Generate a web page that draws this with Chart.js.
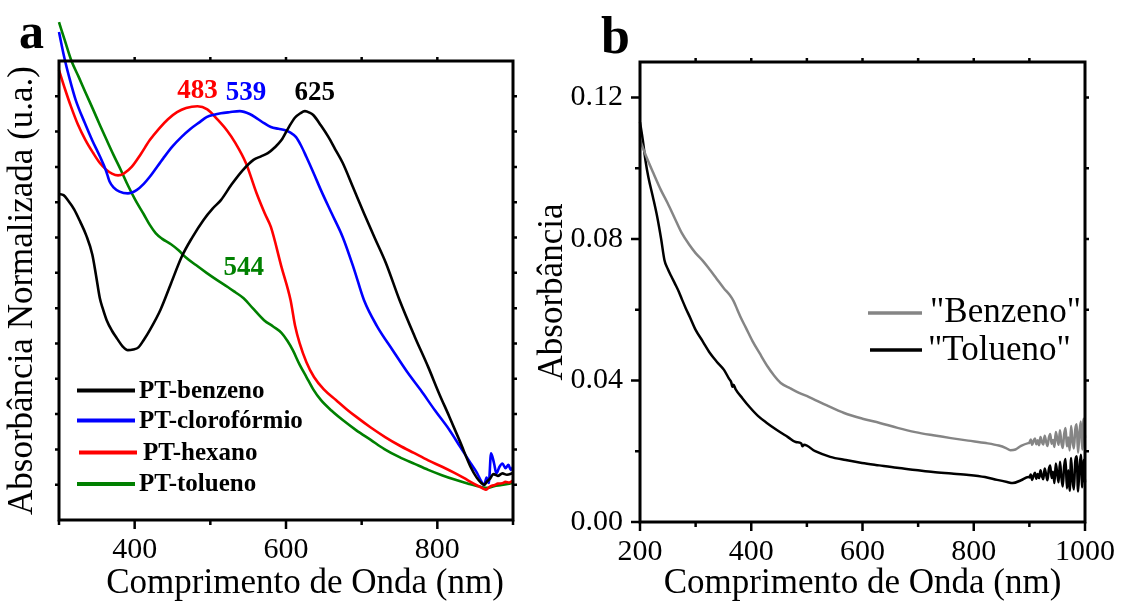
<!DOCTYPE html>
<html lang="pt">
<head>
<meta charset="utf-8">
<title>Espectros de absorção UV-Vis</title>
<script src="https://cdn.jsdelivr.net/npm/chart.js@4.4.1/dist/chart.umd.min.js"></script>
<style>
  html, body { margin: 0; padding: 0; background: #fff; }
  #wrap { position: relative; width: 1127px; height: 605px; overflow: hidden; background: #fff; }
  canvas { position: absolute; top: 0; }
  #cA { left: 0; }
  #cB { left: 530px; }
</style>
</head>
<body>
<div id="wrap">
  <canvas id="cA" width="530" height="605"></canvas>
  <canvas id="cB" width="597" height="605"></canvas>
</div>
<script>
// ---------- Painel a: absorbância normalizada dos filmes de PT ----------
const benzenoNm  = [300,306,312,320,328,336,344,349,354,358,363,370,377,384,391,398,405,412,420,434,448,462,476,491,503,514,528,543,557,567,576,585,594,603,612,619,625,631,636,646,656,665,675,689,703,717,732,750,770,788,802,816,830,844,852,858,862,866,870,874,880,886,892,900];
const benzenoAbs = [0.923,0.920,0.905,0.880,0.845,0.806,0.752,0.692,0.628,0.598,0.566,0.536,0.513,0.492,0.481,0.483,0.489,0.510,0.538,0.595,0.670,0.745,0.800,0.850,0.882,0.906,0.950,0.991,1.020,1.030,1.039,1.055,1.076,1.110,1.140,1.152,1.158,1.154,1.147,1.118,1.085,1.050,1.011,0.940,0.869,0.800,0.728,0.623,0.520,0.433,0.360,0.292,0.222,0.150,0.120,0.105,0.100,0.110,0.118,0.130,0.125,0.132,0.128,0.133];

const clorofNm  = [300,307,314,322,334,344,354,362,365,367,372,380,391,403,412,420,438,450,462,474,486,495,505,514,525,539,552,562,571,580,590,599,606,613,620,627,636,646,660,675,690,703,720,741,760,778,797,816,830,844,852,858,862,865,868,871,875,878,882,886,890,894,897,900];
const clorofAbs = [1.382,1.310,1.250,1.190,1.125,1.075,1.030,0.990,0.970,0.958,0.942,0.930,0.925,0.935,0.952,0.972,1.025,1.058,1.085,1.108,1.127,1.141,1.148,1.152,1.155,1.158,1.150,1.137,1.124,1.113,1.108,1.104,1.097,1.085,1.060,1.028,0.985,0.935,0.870,0.801,0.710,0.623,0.550,0.481,0.420,0.368,0.310,0.255,0.208,0.161,0.135,0.110,0.099,0.120,0.105,0.189,0.160,0.132,0.150,0.160,0.147,0.156,0.142,0.150];

const hexanoNm  = [300,308,316,325,335,345,354,362,370,378,386,396,408,420,432,444,456,468,483,496,510,522,533,547,561,572,580,594,606,612,618,627,637,650,666,680,693,712,731,750,769,788,807,822,835,848,858,864,868,872,876,880,886,890,895,900];
const hexanoAbs = [1.274,1.220,1.170,1.120,1.076,1.040,1.011,0.993,0.981,0.976,0.982,1.000,1.036,1.076,1.108,1.135,1.155,1.167,1.172,1.163,1.133,1.103,1.068,1.011,0.926,0.868,0.830,0.717,0.623,0.550,0.501,0.447,0.405,0.370,0.340,0.314,0.292,0.262,0.235,0.211,0.190,0.169,0.150,0.134,0.119,0.103,0.092,0.086,0.092,0.097,0.099,0.103,0.104,0.108,0.106,0.112];

const toluenoNm  = [300,308,316,326,335,345,354,363,372,382,391,401,412,420,428,436,448,458,467,481,495,510,523,533,544,556,571,583,594,602,609,618,627,636,646,660,675,693,712,730,750,770,788,806,825,842,859,866,875,885,900];
const toluenoAbs = [1.410,1.356,1.303,1.255,1.211,1.163,1.119,1.076,1.034,0.990,0.948,0.906,0.866,0.836,0.812,0.797,0.781,0.764,0.745,0.722,0.700,0.678,0.660,0.645,0.628,0.600,0.566,0.548,0.530,0.507,0.481,0.440,0.405,0.370,0.340,0.310,0.283,0.254,0.227,0.201,0.178,0.159,0.142,0.127,0.113,0.102,0.093,0.091,0.096,0.099,0.105];

const xTicksA      = [400, 600, 800];
const xMinorTicksA = [300, 500, 700, 900];
const xTopTicksA   = [400, 500, 600, 700, 800];
const yTicksA      = [0.1,0.2,0.3,0.4,0.5,0.6,0.7,0.8,0.9,1.0,1.1,1.2];

// comprimentos de onda dos máximos indicados no gráfico
const peakLabels = ['483', '539', '625', '544'];
const peakNm     = [483, 547, 638, 544];
const peakAbs    = [1.216, 1.209, 1.209, 0.7145];

// ---------- Painel b: absorbância das soluções ----------
const benzNmB  = [200,212,224,237,250,262,275,288,300,313,326,338,351,361,368,375,382,390,402,415,430,440,453,470,486,504,535,567,600,631,663,695,727,759,790,822,845,858,866,875,885,898,
  900,902.5,905,907.5,910,912.5,915,917.5,920,922.5,925,927.5,930,932.5,935,937.5,940,942.5,945,947.5,950,952.5,955,957.5,960,962.5,965,967.5,970,972.5,975,977.5,980,982.5,985,987.5,990,992.5,995,997.5,1000];
const benzAbsB = [0.1080,0.1030,0.0986,0.0940,0.0900,0.0860,0.0817,0.0785,0.0760,0.0738,0.0712,0.0687,0.0660,0.0642,0.0625,0.0600,0.0575,0.0550,0.0512,0.0477,0.0438,0.0416,0.0393,0.0378,0.0365,0.0353,0.0330,0.0308,0.0292,0.0280,0.0266,0.0254,0.0245,0.0237,0.0230,0.0223,0.0216,0.0209,0.0203,0.0205,0.0215,0.0223,
  0.0224,0.0233,0.0218,0.0229,0.0236,0.0220,0.0231,0.0217,0.0240,0.0226,0.0219,0.0244,0.0228,0.0215,0.0238,0.0249,0.0221,0.0232,0.0212,0.0254,0.0236,0.0218,0.0259,0.0225,0.0209,0.0248,0.0266,0.0214,0.0239,0.0202,0.0271,0.0230,0.0208,0.0262,0.0276,0.0196,0.0251,0.0284,0.0205,0.0292,0.0238];

const tolNmB  = [200,205,210,215,223,231,238,244,250,256,263,270,276,282,290,300,313,326,338,351,360,364,366,368,372,384,397,412,428,446,466,480,490,492,495,515,542,570,599,630,662,695,727,760,791,820,842,860,870,885,898,
  900,902.5,905,907.5,910,912.5,915,917.5,920,922.5,925,927.5,930,932.5,935,937.5,940,942.5,945,947.5,950,952.5,955,957.5,960,962.5,965,967.5,970,972.5,975,977.5,980,982.5,985,987.5,990,992.5,995,997.5,1000];
const tolAbsB = [0.1130,0.1080,0.1020,0.0975,0.0920,0.0862,0.0800,0.0740,0.0715,0.0695,0.0673,0.0650,0.0627,0.0605,0.0578,0.0543,0.0510,0.0477,0.0453,0.0430,0.0405,0.0395,0.0382,0.0388,0.0375,0.0350,0.0325,0.0300,0.0280,0.0260,0.0240,0.0226,0.0222,0.0214,0.0218,0.0200,0.0184,0.0175,0.0167,0.0160,0.0153,0.0147,0.0141,0.0137,0.0133,0.0127,0.0119,0.0113,0.0110,0.0118,0.0127,
  0.0126,0.0134,0.0119,0.0131,0.0139,0.0122,0.0136,0.0124,0.0146,0.0130,0.0121,0.0151,0.0135,0.0118,0.0149,0.0160,0.0124,0.0142,0.0110,0.0165,0.0138,0.0112,0.0170,0.0128,0.0100,0.0158,0.0178,0.0095,0.0146,0.0088,0.0181,0.0120,0.0092,0.0172,0.0186,0.0086,0.0150,0.0190,0.0098,0.0176,0.0112];

const xTicksB      = [200, 400, 600, 800, 1000];
const xMinorTicksB = [300, 500, 700, 900];
const xTopTicksB   = [300, 400, 500, 600, 700, 800, 900];
const yTicksB      = [0, 0.04, 0.08, 0.12];
const yMinorTicksB = [0.02, 0.06, 0.10];
const yRightTicksB = [0.02, 0.04, 0.06, 0.08, 0.10, 0.12];

const xTitle = 'Comprimento de Onda (nm)';

// ---------- estilo comum ----------
const SERIF = "'Liberation Serif', 'Times New Roman', serif";

function series(label, xs, ys, color, width) {
  return {
    label,
    data: xs.map((x, i) => ({ x, y: ys[i] })),
    borderColor: color,
    backgroundColor: color,
    borderWidth: width,
    pointRadius: 0,
    fill: false,
    clip: false,
    cubicInterpolationMode: 'monotone'
  };
}

// moldura fechada com marcas de escala voltadas para fora
const frameTicks = {
  id: 'frameTicks',
  afterDatasetsDraw(chart, args, opts) {
    const { ctx, chartArea: a, scales } = chart;
    ctx.save();
    ctx.strokeStyle = '#000';
    ctx.lineCap = 'butt';
    ctx.lineWidth = opts.tickWidth;
    for (const t of opts.marks) {
      const s = scales[t.axis];
      ctx.beginPath();
      for (const v of t.values) {
        const p = s.getPixelForValue(v);
        if (t.side === 'bottom') { ctx.moveTo(p, a.bottom); ctx.lineTo(p, a.bottom + t.len); }
        else if (t.side === 'top') { ctx.moveTo(p, a.top); ctx.lineTo(p, a.top - t.len); }
        else if (t.side === 'left') { ctx.moveTo(a.left, p); ctx.lineTo(a.left - t.len, p); }
        else { ctx.moveTo(a.right, p); ctx.lineTo(a.right + t.len, p); }
      }
      ctx.stroke();
    }
    ctx.lineWidth = opts.frameWidth;
    ctx.lineJoin = 'miter';
    ctx.strokeRect(a.left, a.top, a.right - a.left, a.bottom - a.top);
    ctx.restore();
  }
};

// textos livres: rótulos dos picos (coordenadas dos dados), letra do painel, título do eixo
const notes = {
  id: 'notes',
  afterDraw(chart, args, opts) {
    const { ctx, scales } = chart;
    ctx.save();
    for (const n of opts.items) {
      ctx.font = n.font;
      ctx.fillStyle = n.color;
      ctx.textAlign = n.align || 'center';
      ctx.textBaseline = n.baseline || 'middle';
      const x = n.data ? scales.x.getPixelForValue(n.x) : n.x;
      const y = n.data ? scales.y.getPixelForValue(n.y) : n.y;
      ctx.fillText(n.text, x, y);
    }
    ctx.restore();
  }
};

// legenda com traço de linha e nome de cada conjunto
const lineLegend = {
  id: 'lineLegend',
  afterDraw(chart, args, opts) {
    const { ctx } = chart;
    ctx.save();
    ctx.font = opts.font;
    ctx.fillStyle = '#000';
    ctx.textAlign = 'left';
    ctx.textBaseline = opts.baseline;
    for (const it of opts.items) {
      const ds = chart.data.datasets[it.index];
      ctx.strokeStyle = ds.borderColor;
      ctx.lineWidth = opts.lineWidth;
      ctx.beginPath();
      ctx.moveTo(it.x1, it.y);
      ctx.lineTo(it.x2, it.y);
      ctx.stroke();
      ctx.fillText(ds.label, it.tx, it.ty);
    }
    ctx.restore();
  }
};

function xAxis(min, max, ticks, height, pad, showTitle) {
  return {
    type: 'linear', min, max,
    afterBuildTicks: s => { s.ticks = ticks.map(v => ({ value: v })); },
    afterFit: s => { s.height = height; },
    grid: { display: false, drawTicks: false },
    border: { display: false },
    ticks: { autoSkip: false, maxRotation: 0, padding: pad, color: '#000',
             font: { family: SERIF, size: 30 }, callback: v => String(v) },
    title: { display: showTitle, text: xTitle, color: '#000',
             font: { family: SERIF, size: 35 }, padding: { top: 0, bottom: 0 } }
  };
}

const common = {
  responsive: false,
  animation: false,
  devicePixelRatio: 1,
  events: []
};

// ---------- gráfico a ----------
new Chart(document.getElementById('cA'), {
  type: 'line',
  data: {
    datasets: [
      series('PT-benzeno', benzenoNm, benzenoAbs, '#000000', 2.6),
      series('PT-clorofórmio', clorofNm, clorofAbs, '#0000ff', 2.6),
      series('PT-hexano', hexanoNm, hexanoAbs, '#ff0000', 2.6),
      series('PT-tolueno', toluenoNm, toluenoAbs, '#008000', 2.6)
    ]
  },
  options: {
    ...common,
    layout: { padding: { left: 0, top: 61, right: 17, bottom: 0 } },
    plugins: {
      legend: { display: false },
      tooltip: { enabled: false },
      frameTicks: {
        frameWidth: 3, tickWidth: 2.5,
        marks: [
          { axis: 'x', side: 'bottom', values: xTicksA, len: 9 },
          { axis: 'x', side: 'bottom', values: xMinorTicksA, len: 5 },
          { axis: 'x', side: 'top', values: xTopTicksA, len: 4 },
          { axis: 'y', side: 'left', values: yTicksA, len: 4 },
          { axis: 'y', side: 'right', values: yTicksA, len: 4 }
        ]
      },
      notes: {
        items: [
          ...peakLabels.map((t, i) => ({
            text: t, x: peakNm[i], y: peakAbs[i], data: true,
            color: ['#ff0000', '#0000ff', '#000000', '#008000'][i],
            font: 'bold 27px ' + SERIF
          })),
          { text: 'a', x: 19, y: 48, align: 'left', baseline: 'alphabetic',
            color: '#000', font: 'bold 50px ' + SERIF },
          { text: xTitle, x: 305, y: 584, color: '#000', font: '35px ' + SERIF }
        ]
      },
      lineLegend: {
        font: 'bold 25px ' + SERIF, lineWidth: 4, baseline: 'middle',
        items: [
          { index: 0, x1: 77, x2: 135, y: 390.5, tx: 139, ty: 391.5 },
          { index: 1, x1: 77, x2: 135, y: 420.5, tx: 139, ty: 421.5 },
          { index: 2, x1: 79, x2: 137, y: 452.5, tx: 143, ty: 453.5 },
          { index: 3, x1: 77, x2: 135, y: 484, tx: 139, ty: 485 }
        ]
      }
    },
    scales: {
      x: xAxis(300, 900, xTicksA, 85, 12, false),
      y: {
        type: 'linear', min: 0, max: 1.3,
        afterFit: s => { s.width = 59; },
        grid: { display: false, drawTicks: false },
        border: { display: false },
        ticks: { display: false },
        title: { display: true, text: 'Absorbância Normalizada (u.a.)', color: '#000',
                 font: { family: SERIF, size: 35 }, padding: { top: 2, bottom: 0 } }
      }
    }
  },
  plugins: [frameTicks, notes, lineLegend]
});

// ---------- gráfico b ----------
new Chart(document.getElementById('cB'), {
  type: 'line',
  data: {
    datasets: [
      series('"Benzeno"', benzNmB, benzAbsB, '#858585', 2.5),
      series('"Tolueno"', tolNmB, tolAbsB, '#000000', 2.5)
    ]
  },
  options: {
    ...common,
    layout: { padding: { left: 0, top: 62, right: 32, bottom: 0 } },
    plugins: {
      legend: { display: false },
      tooltip: { enabled: false },
      frameTicks: {
        frameWidth: 3, tickWidth: 2.5,
        marks: [
          { axis: 'x', side: 'bottom', values: xTicksB, len: 9 },
          { axis: 'x', side: 'bottom', values: xMinorTicksB, len: 5 },
          { axis: 'x', side: 'top', values: xTopTicksB, len: 4 },
          { axis: 'y', side: 'left', values: yTicksB, len: 9 },
          { axis: 'y', side: 'left', values: yMinorTicksB, len: 5 },
          { axis: 'y', side: 'right', values: yRightTicksB, len: 4 }
        ]
      },
      notes: {
        items: [
          { text: 'b', x: 71, y: 53, align: 'left', baseline: 'alphabetic',
            color: '#000', font: 'bold 52px ' + SERIF }
        ]
      },
      lineLegend: {
        font: '35px ' + SERIF, lineWidth: 3.5, baseline: 'alphabetic',
        items: [
          { index: 0, x1: 338, x2: 392, y: 313, tx: 400, ty: 321.5 },
          { index: 1, x1: 340, x2: 392, y: 350, tx: 398, ty: 360 }
        ]
      }
    },
    scales: {
      x: xAxis(200, 1000, xTicksB, 83, 12, true),
      y: {
        type: 'linear', min: 0, max: 0.13,
        afterBuildTicks: s => { s.ticks = yTicksB.map(v => ({ value: v })); },
        afterFit: s => { s.width = 110; },
        grid: { display: false, drawTicks: false },
        border: { display: false },
        ticks: { padding: 17, color: '#000', font: { family: SERIF, size: 30 },
                 callback: v => v.toFixed(2) },
        title: { display: true, text: 'Absorbância', color: '#000',
                 font: { family: SERIF, size: 35 }, padding: { top: 2, bottom: 0 } }
      }
    }
  },
  plugins: [frameTicks, notes, lineLegend]
});
</script>
</body>
</html>
